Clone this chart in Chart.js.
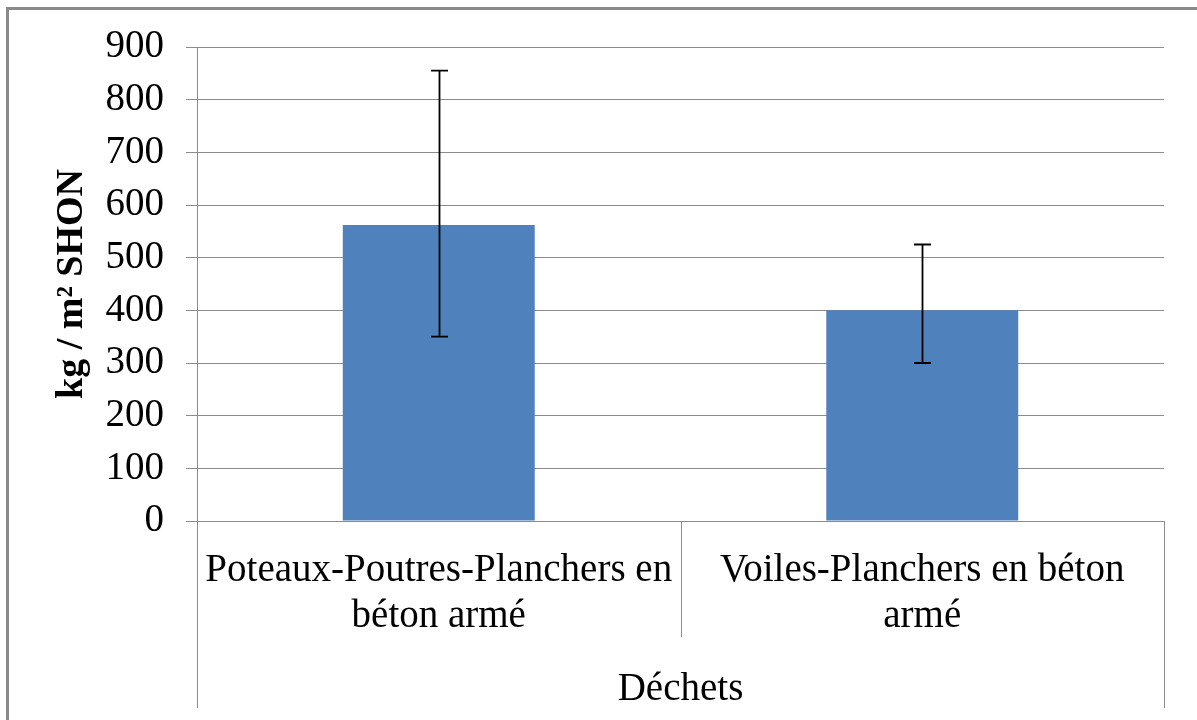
<!DOCTYPE html>
<html>
<head>
<meta charset="utf-8">
<script src="https://cdn.jsdelivr.net/npm/chart.js@4/dist/chart.umd.min.js"></script>
<style>
  html, body { margin: 0; padding: 0; background: #fff; }
  #wrap { width: 1197px; height: 720px; }
</style>
</head>
<body>
<div id="wrap"><canvas id="chart"></canvas></div>
<script>
"use strict";

// values
const categories = [["Poteaux-Poutres-Planchers en", "béton armé"], ["Voiles-Planchers en béton", "armé"]];
const meanValues = [562, 400];
const errLow = [350, 300];
const errHigh = [855, 525];
const groupLabel = "Déchets";
const yTitle = "kg / m² SHON";

const FONT = "'Liberation Serif', 'Times New Roman', serif";
const GRID = "#8c8c8c";

// outer frame + vertical separators of the category axis
const framePlugin = {
    id: "frame",
    beforeDraw: (chart) => {
        const ctx = chart.ctx;
        ctx.save();
        ctx.strokeStyle = "#8a8a8a";
        ctx.lineWidth = 3;
        ctx.strokeRect(7.5, 8.5, 1300, 800);
        ctx.restore();
    },
    afterDraw: (chart) => {
        const ctx = chart.ctx;
        const area = chart.chartArea;
        const x = chart.scales.x;
        const mid = (x.getPixelForValue(0) + x.getPixelForValue(1)) / 2;
        ctx.save();
        ctx.strokeStyle = GRID;
        ctx.lineWidth = 1;
        ctx.beginPath();
        ctx.moveTo(Math.round(area.left) + 0.5, area.bottom);
        ctx.lineTo(Math.round(area.left) + 0.5, 708);
        ctx.moveTo(Math.round(area.right) + 0.5, area.bottom);
        ctx.lineTo(Math.round(area.right) + 0.5, 708);
        ctx.moveTo(Math.round(mid) + 0.5, area.bottom);
        ctx.lineTo(Math.round(mid) + 0.5, 637);
        ctx.stroke();
        ctx.restore();
    }
};

// error bars drawn through the scales
const errorBarPlugin = {
    id: "errorBars",
    afterDatasetsDraw: (chart) => {
        const ctx = chart.ctx;
        const y = chart.scales.y;
        const meta = chart.getDatasetMeta(0);
        ctx.save();
        ctx.strokeStyle = "#000";
        ctx.lineWidth = 1.8;
        meta.data.forEach((bar, i) => {
            const cx = Math.round(bar.x) + 0.5;
            const top = y.getPixelForValue(errHigh[i]);
            const bot = y.getPixelForValue(errLow[i]);
            const half = 8.5;
            ctx.beginPath();
            ctx.moveTo(cx, top);
            ctx.lineTo(cx, bot);
            ctx.moveTo(cx - half, top);
            ctx.lineTo(cx + half, top);
            ctx.moveTo(cx - half, bot);
            ctx.lineTo(cx + half, bot);
            ctx.stroke();
        });
        ctx.restore();
    }
};

const ctx = document.getElementById("chart").getContext("2d");
new Chart(ctx, {
    type: "bar",
    data: {
        labels: categories,
        datasets: [{
            data: meanValues,
            backgroundColor: "#4f81bd",
            borderWidth: 0,
            barPercentage: 0.397,
            categoryPercentage: 1
        }]
    },
    options: {
        responsive: true,
        maintainAspectRatio: false,
        animation: false,
        layout: { padding: { top: 47, right: 33, bottom: 0, left: 0 } },
        plugins: {
            legend: { display: false },
            tooltip: { enabled: false }
        },
        scales: {
            x: {
                grid: { display: false, drawTicks: false },
                border: { display: true, color: GRID, width: 1 },
                ticks: {
                    color: "#000",
                    padding: 27,
                    maxRotation: 0,
                    autoSkip: false,
                    font: { family: FONT, size: 39, lineHeight: 1.18 }
                },
                title: {
                    display: true,
                    text: groupLabel,
                    color: "#000",
                    padding: { top: 0, bottom: 7 },
                    font: { family: FONT, size: 39, lineHeight: 1.2 }
                },
                afterFit: (scale) => { scale.height = 199; }
            },
            y: {
                min: 0,
                max: 900,
                ticks: {
                    stepSize: 100,
                    color: "#000",
                    padding: 22,
                    font: { family: FONT, size: 39 }
                },
                grid: { color: GRID, lineWidth: 1, tickLength: 11 },
                border: { display: true, color: GRID, width: 1 },
                title: {
                    display: true,
                    text: yTitle,
                    color: "#000",
                    padding: { top: 49, bottom: 0 },
                    font: { family: FONT, size: 38, weight: "bold", lineHeight: 1.2 }
                },
                afterFit: (scale) => { scale.width = 197; }
            }
        }
    },
    plugins: [framePlugin, errorBarPlugin]
});
</script>
</body>
</html>
